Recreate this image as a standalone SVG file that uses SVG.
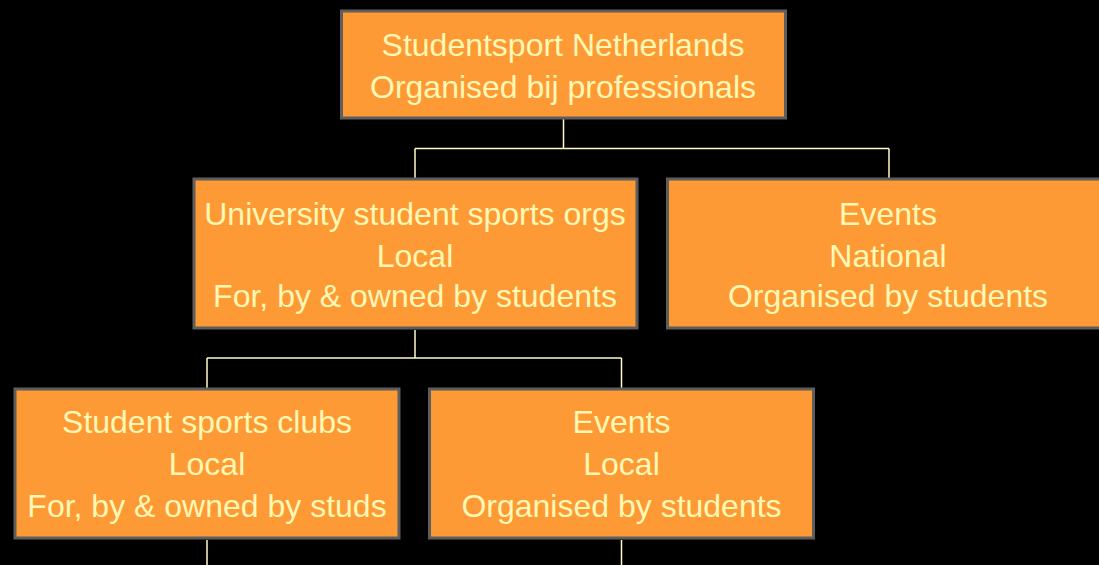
<svg xmlns="http://www.w3.org/2000/svg" width="1099" height="565" viewBox="0 0 1099 565">
<style>
.box{fill:#FE9A35;stroke:#5E5E5E;stroke-width:3}
.t{font-family:"Liberation Sans",Arial,sans-serif;font-size:32px;fill:#FFF8B4;text-anchor:middle}
.c{fill:none;stroke:#FFFCC4;stroke-width:1.5}
</style>
<rect width="1099" height="565" fill="#000"/>
<g id="connectors">
<path class="c" d="M563.5 119V148.5M415 148.5H889M415 148.5V178M889 148.5V178"/>
<path class="c" d="M415 330V358M207 358H621.5M207 358V388M621.5 358V388"/>
<path class="c" d="M207 540V565M621.5 540V565"/>
</g>
<g id="n1">
<rect class="box" x="341.5" y="11" width="444" height="107"/>
<text class="t" x="563" y="56">Studentsport Netherlands</text>
<text class="t" x="563" y="98">Organised bij professionals</text>
</g>
<g id="n2">
<rect class="box" x="194" y="179" width="443" height="149"/>
<text class="t" x="415" y="225">University student sports orgs</text>
<text class="t" x="415" y="266.5">Local</text>
<text class="t" x="415" y="306.5">For, by &amp; owned by students</text>
</g>
<g id="n3">
<rect class="box" x="667.5" y="179" width="445" height="149"/>
<text class="t" x="888" y="225">Events</text>
<text class="t" x="888" y="266.5">National</text>
<text class="t" x="888" y="306.5">Organised by students</text>
</g>
<g id="n4">
<rect class="box" x="15" y="389" width="384" height="149"/>
<text class="t" x="207" y="433">Student sports clubs</text>
<text class="t" x="207" y="475">Local</text>
<text class="t" x="207" y="516.5">For, by &amp; owned by studs</text>
</g>
<g id="n5">
<rect class="box" x="429.5" y="389" width="384" height="149"/>
<text class="t" x="621.5" y="433">Events</text>
<text class="t" x="621.5" y="475">Local</text>
<text class="t" x="621.5" y="516.5">Organised by students</text>
</g>
</svg>
